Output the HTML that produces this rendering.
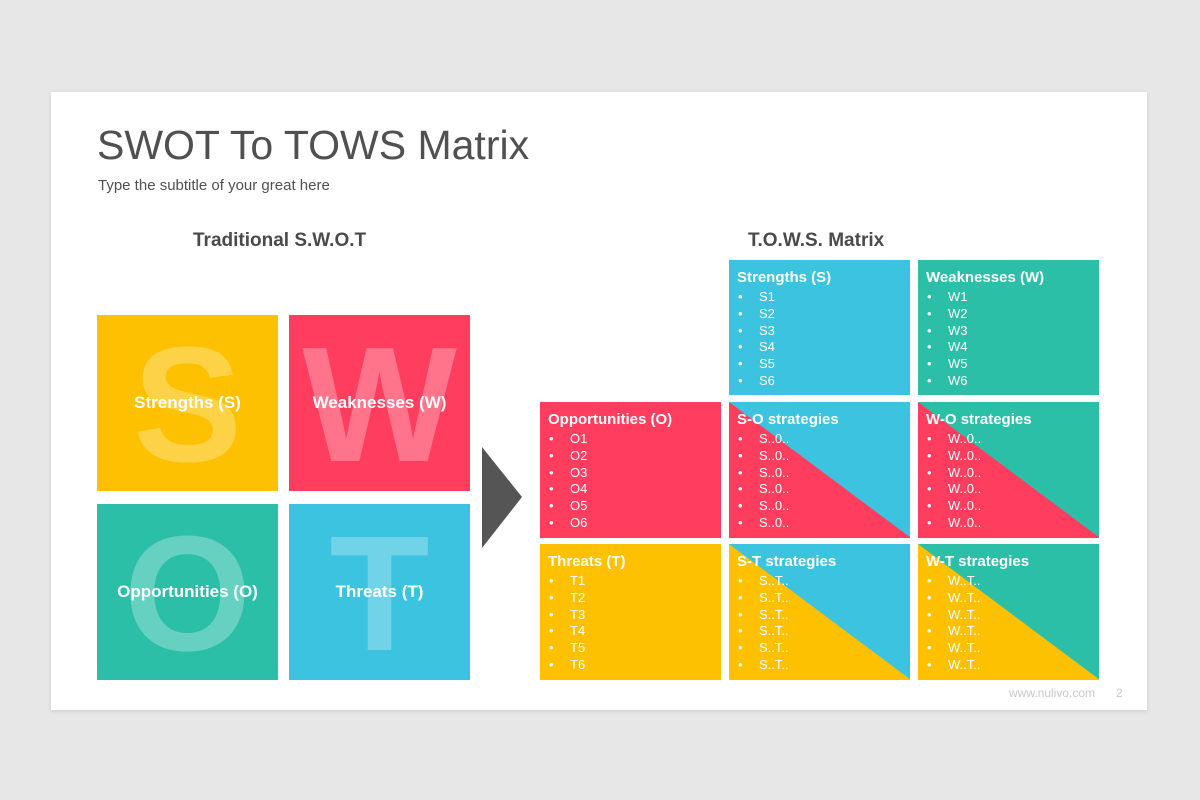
<!DOCTYPE html>
<html><head><style>
body{margin:0;width:1200px;height:800px;background:#e8e7e8;font-family:"Liberation Sans",sans-serif;position:relative;overflow:hidden}
.slide{position:absolute;left:51px;top:92px;width:1096px;height:618px;background:#fff;box-shadow:0 1px 4px rgba(0,0,0,.12)}
.a{position:absolute}
.big{position:absolute;overflow:hidden;color:#fff}
.big .L{position:absolute;left:0;right:0;text-align:center;font-size:164px;font-weight:bold;line-height:176px;top:2px;color:rgba(255,255,255,.28)}
.big .t{position:absolute;left:0;right:0;text-align:center;font-weight:bold;font-size:17px;top:78px}
.c{position:absolute;width:181px;height:136px;color:#fff;overflow:hidden}
.c svg{position:absolute;left:0;top:0}
.c .h{position:absolute;left:8px;top:9px;font-weight:bold;font-size:15px}
.c ul{position:absolute;left:0;top:29px;margin:0;padding:0;list-style:none;font-size:13px;line-height:16.8px}
.c li{position:relative;padding-left:30px}
.c li:before{content:"•";position:absolute;left:9px}
</style></head><body>
<div class="slide"></div>
<div class="a" style="left:97px;top:122px;font-size:41px;color:#505050">SWOT To TOWS Matrix</div>
<div class="a" style="left:98px;top:177px;font-size:15px;color:#505050">Type the subtitle of your great here</div>
<div class="a" style="left:193px;top:230px;font-size:19px;font-weight:bold;color:#4a4a4a">Traditional S.W.O.T</div>
<div class="a" style="left:748px;top:230px;font-size:19px;font-weight:bold;color:#4a4a4a">T.O.W.S. Matrix</div>

<div class="big" style="left:97px;top:315px;width:181px;height:176px;background:#fdc101"><div class="L">S</div><div class="t">Strengths (S)</div></div>
<div class="big" style="left:289px;top:315px;width:181px;height:176px;background:#ff3d5f"><div class="L">W</div><div class="t">Weaknesses (W)</div></div>
<div class="big" style="left:97px;top:504px;width:181px;height:176px;background:#2bbfa8"><div class="L">O</div><div class="t">Opportunities (O)</div></div>
<div class="big" style="left:289px;top:504px;width:181px;height:176px;background:#3bc3e0"><div class="L">T</div><div class="t">Threats (T)</div></div>

<svg class="a" style="left:482px;top:447px" width="41" height="102"><polygon points="0,0 40,50 0,101" fill="#555"/></svg>

<div class="c" style="left:729px;top:260px;height:135px;background:#3bc3e0"><div class="h">Strengths (S)</div><ul><li>S1</li><li>S2</li><li>S3</li><li>S4</li><li>S5</li><li>S6</li></ul></div>
<div class="c" style="left:918px;top:260px;height:135px;background:#2bbfa8"><div class="h">Weaknesses (W)</div><ul><li>W1</li><li>W2</li><li>W3</li><li>W4</li><li>W5</li><li>W6</li></ul></div>
<div class="c" style="left:540px;top:402px;background:#ff3d5f"><div class="h">Opportunities (O)</div><ul><li>O1</li><li>O2</li><li>O3</li><li>O4</li><li>O5</li><li>O6</li></ul></div>
<div class="c" style="left:540px;top:544px;background:#fdc101"><div class="h">Threats (T)</div><ul><li>T1</li><li>T2</li><li>T3</li><li>T4</li><li>T5</li><li>T6</li></ul></div>

<div class="c" style="left:729px;top:402px"><svg width="182" height="136"><rect width="182" height="136" fill="#3bc3e0"/><polygon points="0,0 182,136 0,136" fill="#ff3d5f"/></svg><div class="h">S-O strategies</div><ul><li>S..0..</li><li>S..0..</li><li>S..0..</li><li>S..0..</li><li>S..0..</li><li>S..0..</li></ul></div>
<div class="c" style="left:918px;top:402px"><svg width="182" height="136"><rect width="182" height="136" fill="#2bbfa8"/><polygon points="0,0 182,136 0,136" fill="#ff3d5f"/></svg><div class="h">W-O strategies</div><ul><li>W..0..</li><li>W..0..</li><li>W..0..</li><li>W..0..</li><li>W..0..</li><li>W..0..</li></ul></div>
<div class="c" style="left:729px;top:544px"><svg width="182" height="136"><rect width="182" height="136" fill="#3bc3e0"/><polygon points="0,0 182,136 0,136" fill="#fdc101"/></svg><div class="h">S-T strategies</div><ul><li>S..T..</li><li>S..T..</li><li>S..T..</li><li>S..T..</li><li>S..T..</li><li>S..T..</li></ul></div>
<div class="c" style="left:918px;top:544px"><svg width="182" height="136"><rect width="182" height="136" fill="#2bbfa8"/><polygon points="0,0 182,136 0,136" fill="#fdc101"/></svg><div class="h">W-T strategies</div><ul><li>W..T..</li><li>W..T..</li><li>W..T..</li><li>W..T..</li><li>W..T..</li><li>W..T..</li></ul></div>

<div class="a" style="left:1009px;top:686px;font-size:12px;color:#c8c8c8">www.nulivo.com</div>
<div class="a" style="left:1116px;top:686px;font-size:12px;color:#c8c8c8">2</div>
</body></html>
